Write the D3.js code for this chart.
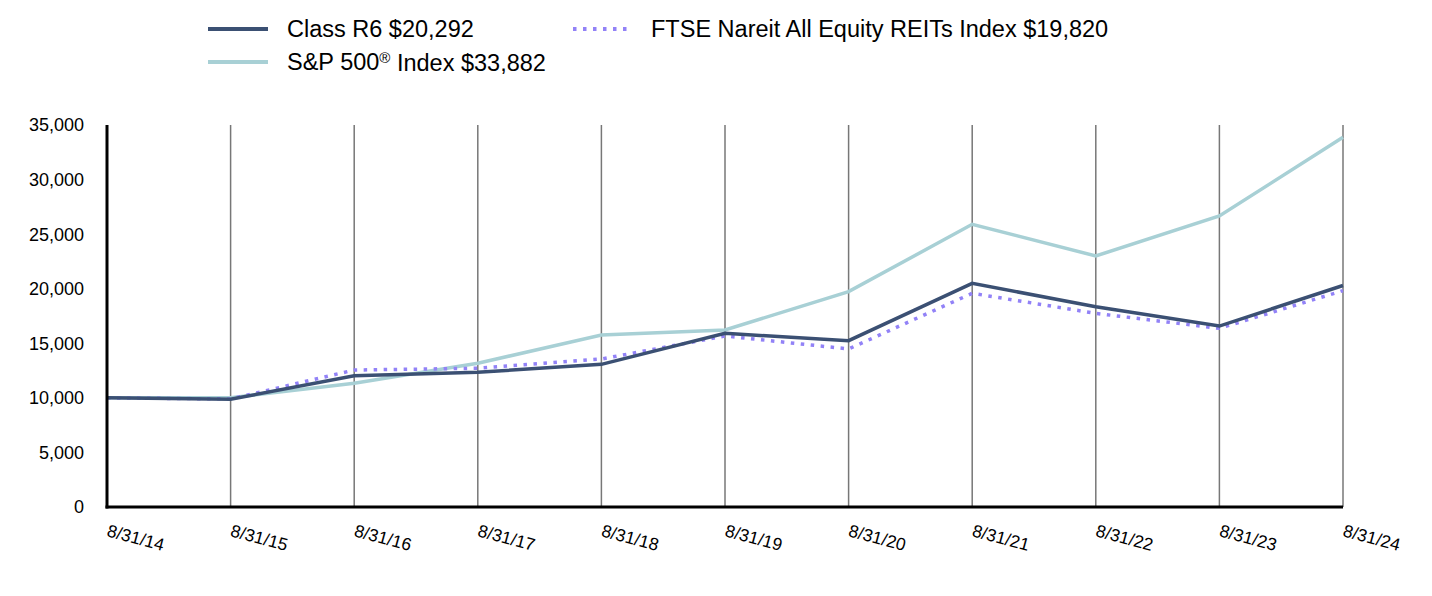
<!DOCTYPE html>
<html lang="en">
<head>
    <meta charset="utf-8">
    <script src="https://d3js.org/d3.v7.min.js"></script>
    <style>
        body { margin: 0; background: #fff; }
        text { font-family: "Liberation Sans", Arial, sans-serif; fill: #000; }
    </style>
</head>
<body>
    <script type="text/javascript">

        let w = 1432;
        let h = 596;

        // data
        let dates = ["8/31/14", "8/31/15", "8/31/16", "8/31/17", "8/31/18", "8/31/19",
                     "8/31/20", "8/31/21", "8/31/22", "8/31/23", "8/31/24"];
        let classR6 = [10000, 9870, 12030, 12340, 13070, 15910, 15240, 20490, 18350, 16580, 20292];
        let sp500 = [10000, 10010, 11330, 13170, 15760, 16220, 19730, 25900, 23000, 26660, 33882];
        let ftse = [10000, 9900, 12550, 12710, 13560, 15670, 14480, 19580, 17740, 16370, 19820];
        let yTicks = [0, 5000, 10000, 15000, 20000, 25000, 30000, 35000];

        let svg = d3.select("body").append("svg")
                    .attr("width", w)
                    .attr("height", h);

        let x = d3.scalePoint()
                  .domain(dates)
                  .range([107, 1343]);

        let y = d3.scaleLinear()
                  .domain([0, 35000])
                  .range([507, 125]);

        // vertical grid lines
        svg.append("g")
            .selectAll("line")
            .data(dates.slice(1))
            .join("line")
                .attr("x1", d => x(d))
                .attr("x2", d => x(d))
                .attr("y1", y(35000))
                .attr("y2", y(0))
                .attr("stroke", "#777")
                .attr("stroke-width", 1.5);

        // y tick labels
        svg.append("g")
            .selectAll("text")
            .data(yTicks)
            .join("text")
                .attr("x", 84)
                .attr("y", d => y(d))
                .attr("dy", "0.36em")
                .attr("text-anchor", "end")
                .attr("font-size", 18)
                .text(d => d3.format(",")(d));

        // x tick labels, tilted
        svg.append("g")
            .selectAll("text")
            .data(dates)
            .join("text")
                .attr("transform", d => "translate(" + (x(d) - 1) + ",536) rotate(15)")
                .attr("font-size", 17.5)
                .text(d => d);

        let line = d3.line()
                     .x((d, i) => x(dates[i]))
                     .y(d => y(d));

        let series = [
            {name: "sp", values: sp500, color: "#a8d0d5", dash: null},
            {name: "ftse", values: ftse, color: "#9282f7", dash: "3.5,6.5"},
            {name: "r6", values: classR6, color: "#3b5073", dash: null}
        ];

        svg.append("g")
            .selectAll("path")
            .data(series)
            .join("path")
                .attr("d", d => line(d.values))
                .attr("fill", "none")
                .attr("stroke", d => d.color)
                .attr("stroke-width", 3.5)
                .attr("stroke-dasharray", d => d.dash);

        // axes
        svg.append("line")
            .attr("x1", 107).attr("x2", 107)
            .attr("y1", y(35000)).attr("y2", y(0) + 1.5)
            .attr("stroke", "#000").attr("stroke-width", 3);
        svg.append("line")
            .attr("x1", 105.5).attr("x2", 1343)
            .attr("y1", y(0)).attr("y2", y(0))
            .attr("stroke", "#000").attr("stroke-width", 3);

        // legend
        let legend = [
            {label: "Class R6 $20,292", color: "#3b5073", dash: null, lx: 208, ly: 29},
            {label: "S&P 500® Index $33,882", color: "#a8d0d5", dash: null, lx: 208, ly: 62},
            {label: "FTSE Nareit All Equity REITs Index $19,820", color: "#9282f7", dash: "3.5,6.5", lx: 573, ly: 29}
        ];

        let lg = svg.append("g")
                    .selectAll("g")
                    .data(legend)
                    .join("g")
                        .attr("transform", d => "translate(" + d.lx + "," + d.ly + ")");

        lg.append("line")
            .attr("x1", 0).attr("x2", d => d.dash ? 55 : 60)
            .attr("stroke", d => d.color)
            .attr("stroke-width", 4)
            .attr("stroke-dasharray", d => d.dash);

        lg.append("text")
            .attr("x", d => d.dash ? 78 : 79)
            .attr("dy", "0.36em")
            .attr("font-size", 23.5)
            .each(function(d) {
                let t = d3.select(this);
                if (d.label.indexOf("®") >= 0) {
                    let parts = d.label.split("®");
                    t.append("tspan").text(parts[0]);
                    t.append("tspan").text("®").attr("font-size", 15).attr("dy", "-0.5em");
                    t.append("tspan").text(parts[1]).attr("dy", "0.34em");
                } else {
                    t.text(d.label);
                }
            });

    </script>
</body>
</html>
